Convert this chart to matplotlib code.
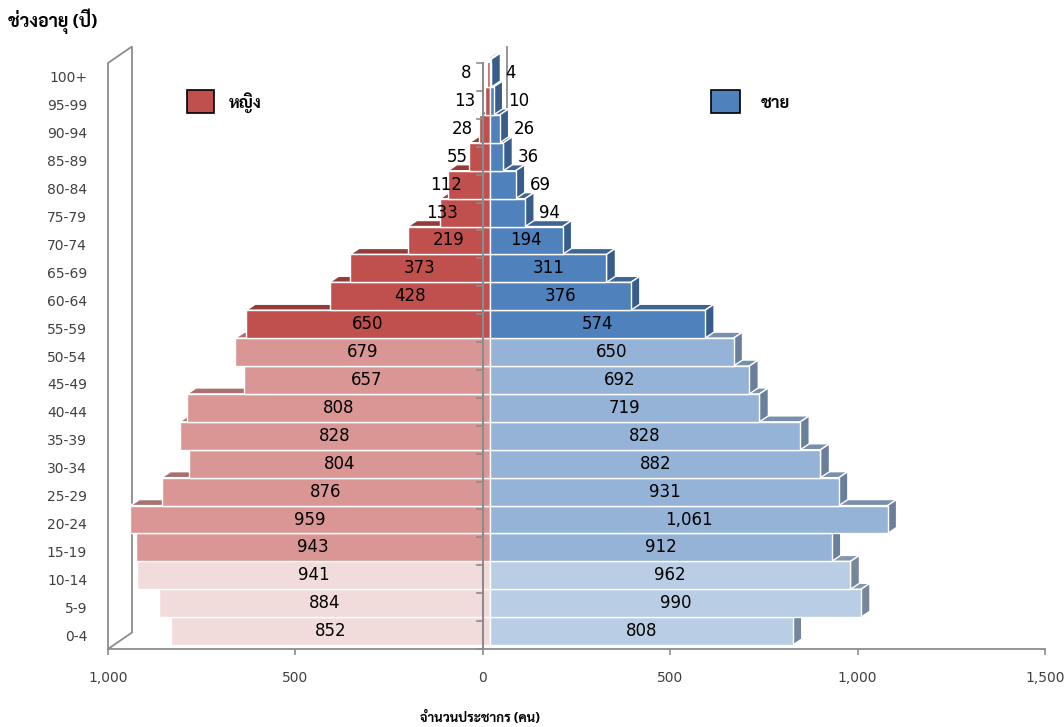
import matplotlib
matplotlib.use("Agg")
import matplotlib.pyplot as plt
from matplotlib import font_manager
from matplotlib.patches import Polygon, Rectangle

# ── data ─────────────────────────────────────────────────────────────
AGE_GROUPS = ["0-4", "5-9", "10-14", "15-19", "20-24", "25-29", "30-34", "35-39",
              "40-44", "45-49", "50-54", "55-59", "60-64", "65-69", "70-74", "75-79",
              "80-84", "85-89", "90-94", "95-99", "100+"]
FEMALE = [852, 884, 941, 943, 959, 876, 804, 828, 808, 657, 679,
          650, 428, 373, 219, 133, 112, 55, 28, 13, 8]
MALE = [808, 990, 962, 912, 1061, 931, 882, 828, 719, 692, 650,
        574, 376, 311, 194, 94, 69, 36, 26, 10, 4]
# colour band per age group: 0 = children, 1 = working age, 2 = elderly
BAND = [0, 0, 0] + [1] * 8 + [2] * 10
XTICKS = [-1000, -500, 0, 500, 1000, 1500]
XTICK_LABELS = ["1,000", "500", "0", "500", "1,000", "1,500"]

F_FRONT = ["#F2DCDB", "#D99694", "#C0504D"]
F_TOP = ["#C4AAA9", "#A87170", "#943B39"]
M_FRONT = ["#B9CDE5", "#95B3D7", "#4F81BD"]
M_SIDE = ["#77879A", "#6A7F9B", "#385D8A"]
M_TOP = ["#8797AA", "#7890AC", "#3F6594"]
GRID = "#8C8C8C"


def pick_thai_font():
    # a Thai-capable family that also ships a bold face
    prefs = ["Noto Sans Thai", "Sarabun", "IBM Plex Sans Thai", "Prompt", "Kanit",
             "Bai Jamjuree", "Athiti", "Chakra Petch"]
    bold = {f.name for f in font_manager.fontManager.ttflist
            if f.weight in ("bold", 700, "700")}
    for n in prefs:
        if n in bold:
            return n
    return "DejaVu Sans"


THAI_FAM = [pick_thai_font(), "DejaVu Sans"]

# 3-D look: bars offset into depth
X0 = 19        # bar base
DX = 24        # depth, x units
DY = 0.215     # depth, rows
YS = 0.14      # bar vertical shift
H = 1.0
WDX, WDY = 64, 0.59   # wall depth


def main():
    fig = plt.figure(figsize=(10.64, 7.27), dpi=100)
    ax = fig.add_axes([108 / 1064, 1 - 649 / 727, 937 / 1064, 586 / 727])
    ax.set_xlim(-1000, 1500)
    ax.set_ylim(-0.5, len(AGE_GROUPS) - 0.5)
    top_row = len(AGE_GROUPS) - 0.5

    # left wall + back axis
    wall = Polygon([(-1000, -0.5), (-1000 + WDX, -0.5 + WDY),
                    (-1000 + WDX, top_row + WDY), (-1000, top_row)],
                   closed=True, facecolor="white", edgecolor=GRID, lw=1.3,
                   clip_on=False, zorder=1)
    ax.add_patch(wall)
    ax.plot([WDX, WDX], [-0.5 + WDY, top_row + WDY], color=GRID, lw=1.3,
            clip_on=False, zorder=1)

    edge = dict(edgecolor="white", lw=1.0, clip_on=False)
    for i, (f, m, b) in enumerate(zip(FEMALE, MALE, BAND)):
        z = 2 + i
        bot = i + YS - H / 2
        top = bot + H
        # female
        left = X0 - f
        ax.add_patch(Polygon([(left, top), (X0, top), (X0 + DX, top + DY), (left + DX, top + DY)],
                             facecolor=F_TOP[b], zorder=z, **edge))
        ax.barh(i + YS, -f, left=X0, height=H, color=F_FRONT[b], edgecolor="white",
                lw=1.0, zorder=z)
        # male
        right = X0 + m
        ax.add_patch(Polygon([(X0, top), (right, top), (right + DX, top + DY), (X0 + DX, top + DY)],
                             facecolor=M_TOP[b], zorder=z, **edge))
        ax.add_patch(Polygon([(right, bot), (right + DX, bot + DY), (right + DX, top + DY), (right, top)],
                             facecolor=M_SIDE[b], zorder=z, **edge))
        ax.barh(i + YS, m, left=X0, height=H, color=M_FRONT[b], edgecolor="white",
                lw=1.0, zorder=z)

        # value labels (small values sit outside the bar end)
        yl = i + YS
        fx = X0 - f / 2 - 60 if f < 150 else X0 - f / 2
        ax.text(fx, yl, f"{f:,}", ha="center", va="center", fontsize=12, zorder=40)
        if m < 150:
            ax.text(right + DX + 14, yl, f"{m:,}", ha="left", va="center",
                    fontsize=12, zorder=40)
        else:
            ax.text(X0 + m / 2, yl, f"{m:,}", ha="center", va="center",
                    fontsize=12, zorder=40)

    # front centre axis with ticks at row boundaries
    ax.plot([0, 0], [-0.5, top_row], color=GRID, lw=1.5, zorder=35, clip_on=False)
    for k in range(len(AGE_GROUPS) + 1):
        ax.plot([-16, 0], [k - 0.5, k - 0.5], color=GRID, lw=1.2, zorder=35,
                clip_on=False)

    # axes styling
    for s in ("top", "right", "left"):
        ax.spines[s].set_visible(False)
    ax.spines["bottom"].set_color(GRID)
    ax.spines["bottom"].set_linewidth(1.3)
    ax.spines["bottom"].set_zorder(36)
    ax.set_xticks(XTICKS)
    ax.set_xticklabels(XTICK_LABELS, fontsize=10, color="#404040")
    ax.tick_params(axis="x", direction="out", length=4, width=1.2, color=GRID, pad=12)
    ax.set_yticks(range(len(AGE_GROUPS)))
    ax.set_yticklabels(AGE_GROUPS, fontsize=10, color="#404040")
    ax.tick_params(axis="y", length=0, pad=15)

    # legend boxes
    fig.add_artist(Rectangle((187 / 1064, 1 - 113 / 727), 27 / 1064, 23 / 727,
                             facecolor=F_FRONT[2], edgecolor="black", lw=1.2,
                             transform=fig.transFigure))
    fig.text(229 / 1064, 1 - 103 / 727, "หญิง", family=THAI_FAM, fontsize=12,
             fontweight="bold", va="center", ha="left")
    fig.add_artist(Rectangle((711 / 1064, 1 - 113 / 727), 29 / 1064, 23 / 727,
                             facecolor=M_FRONT[2], edgecolor="black", lw=1.2,
                             transform=fig.transFigure))
    fig.text(761 / 1064, 1 - 103 / 727, "ชาย", family=THAI_FAM, fontsize=12,
             fontweight="bold", va="center", ha="left")

    fig.text(8 / 1064, 1 - 21 / 727, "ช่วงอายุ (ปี)", family=THAI_FAM, fontsize=13,
             fontweight="bold", va="center", ha="left")
    fig.text(480 / 1064, 1 - 718 / 727, "จำนวนประชากร (คน)", family=THAI_FAM,
             fontsize=9.5, fontweight="bold", va="center", ha="center")

    fig.savefig("out.png", dpi=100)
    plt.close(fig)


if __name__ == "__main__":
    main()
